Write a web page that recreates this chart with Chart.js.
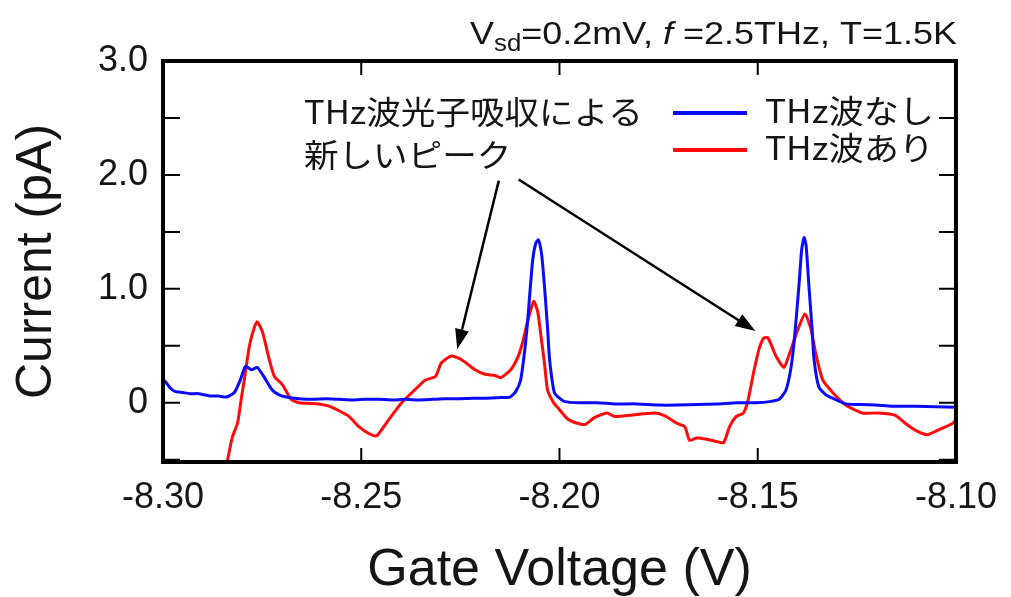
<!DOCTYPE html>
<html>
<head>
<meta charset="utf-8">
<script src="https://cdn.jsdelivr.net/npm/chart.js@4/dist/chart.umd.min.js"></script>
<style>
  html, body { margin: 0; padding: 0; background: #ffffff; }
  #wrap { width: 1011px; height: 597px; position: relative; }
</style>
</head>
<body>
<div id="wrap"><canvas id="c" width="1011" height="597"></canvas></div>
<script>
// ---- data ----
const seriesLabels = ['THz波なし', 'THz波あり'];

const voltageNoTHz = [
  -8.3000, -8.2995, -8.2982, -8.2970, -8.2950, -8.2932, -8.2910, -8.2882, -8.2860, -8.2840,
  -8.2820, -8.2805, -8.2792, -8.2777, -8.2762, -8.2744, -8.2724, -8.2707, -8.2689, -8.2657,
  -8.2620, -8.2590, -8.2556, -8.2520, -8.2490, -8.2456, -8.2420, -8.2390, -8.2356, -8.2320,
  -8.2290, -8.2256, -8.2220, -8.2190, -8.2155, -8.2125, -8.2110, -8.2098, -8.2088, -8.2080,
  -8.2068, -8.2060, -8.2053, -8.2045, -8.2038, -8.2030, -8.2025, -8.2013, -8.2000, -8.1987,
  -8.1950, -8.1905, -8.1860, -8.1805, -8.1750, -8.1704, -8.1650, -8.1604, -8.1550, -8.1504,
  -8.1470, -8.1446, -8.1429, -8.1419, -8.1411, -8.1404, -8.1396, -8.1389, -8.1383, -8.1378,
  -8.1371, -8.1363, -8.1358, -8.1346, -8.1328, -8.1311, -8.1278, -8.1240, -8.1203, -8.1160,
  -8.1103, -8.1050, -8.1000
];
const currentNoTHz = [
  0.20, 0.19, 0.13, 0.10, 0.09, 0.08, 0.08, 0.06, 0.06, 0.05,
  0.09, 0.20, 0.32, 0.29, 0.31, 0.22, 0.11, 0.07, 0.05, 0.035,
  0.03, 0.035, 0.03, 0.025, 0.03, 0.03, 0.025, 0.03, 0.025, 0.03,
  0.035, 0.035, 0.04, 0.04, 0.045, 0.05, 0.10, 0.20, 0.45, 0.73,
  1.24, 1.40, 1.43, 1.30, 1.03, 0.65, 0.38, 0.09, 0.04, 0.01,
  0.00, 0.00, -0.01, -0.01, -0.02, -0.02, -0.015, -0.01, 0.00, 0.00,
  0.01, 0.03, 0.11, 0.25, 0.44, 0.70, 1.03, 1.35, 1.45, 1.38,
  1.03, 0.65, 0.38, 0.14, 0.07, 0.04, -0.01, -0.015, -0.02, -0.03,
  -0.03, -0.035, -0.04
];

const voltageWithTHz = [
  -8.2850, -8.2837, -8.2825, -8.2812, -8.2802, -8.2795, -8.2782, -8.2769, -8.2762, -8.2749,
  -8.2732, -8.2719, -8.2699, -8.2677, -8.2657, -8.2607, -8.2581, -8.2556, -8.2531, -8.2506,
  -8.2481, -8.2461, -8.2431, -8.2398, -8.2363, -8.2338, -8.2313, -8.2298, -8.2273, -8.2248,
  -8.2213, -8.2188, -8.2163, -8.2148, -8.2123, -8.2105, -8.2093, -8.2080, -8.2065, -8.2055,
  -8.2048, -8.2038, -8.2030, -8.2015, -8.2005, -8.1980, -8.1955, -8.1935, -8.1912, -8.1880,
  -8.1862, -8.1822, -8.1762, -8.1737, -8.1704, -8.1684, -8.1672, -8.1654, -8.1629, -8.1604,
  -8.1586, -8.1571, -8.1554, -8.1536, -8.1524, -8.1509, -8.1496, -8.1484, -8.1474, -8.1454,
  -8.1434, -8.1416, -8.1398, -8.1381, -8.1366, -8.1353, -8.1336, -8.1311, -8.1278, -8.1236,
  -8.1195, -8.1153, -8.1128, -8.1103, -8.1073, -8.1045, -8.1008, -8.1000
];
const currentWithTHz = [
  -0.70, -0.50, -0.30, -0.18, 0.05, 0.20, 0.50, 0.67, 0.71, 0.62,
  0.38, 0.23, 0.16, 0.03, 0.00, -0.01, -0.03, -0.07, -0.12, -0.21,
  -0.27, -0.29, -0.15, 0.00, 0.12, 0.20, 0.23, 0.35, 0.41, 0.38,
  0.29, 0.25, 0.24, 0.22, 0.29, 0.40, 0.53, 0.72, 0.89, 0.80,
  0.62, 0.35, 0.11, 0.00, -0.04, -0.14, -0.18, -0.19, -0.13, -0.09,
  -0.12, -0.11, -0.09, -0.11, -0.18, -0.21, -0.33, -0.31, -0.32, -0.34,
  -0.35, -0.21, -0.12, -0.09, 0.03, 0.29, 0.48, 0.57, 0.57, 0.41,
  0.31, 0.47, 0.65, 0.78, 0.65, 0.42, 0.20, 0.09, -0.02, -0.09,
  -0.09, -0.11, -0.18, -0.24, -0.28, -0.24, -0.18, -0.15
];

const xMin = -8.30, xMax = -8.10, xStep = 0.05;
const yMin = -0.52, yMax = 3.0, yStep = 0.5;
const yLabelled = [0, 1, 2, 3];

const annotationLines = ['THz波光子吸収による', '新しいピーク'];
// arrows: [voltage, current] in data units
const arrowStarts = [[-8.2153, 1.95], [-8.2103, 1.96]];
const arrowTips   = [[-8.2258, 0.47], [-8.1506, 0.63]];

const colors = ['#0a0aff', '#ff0a0a'];
const latin = '"Liberation Sans", Arial, sans-serif';
const cjk = '"Noto Sans CJK JP", "Noto Sans CJK SC", sans-serif';
const textColor = '#151515';

function pts(xs, ys) { return xs.map((v, i) => ({ x: v, y: ys[i] })); }

function stretchedText(ctx, text, x, y, sx) {
  ctx.save();
  ctx.translate(x, y);
  ctx.scale(sx, 1);
  ctx.fillText(text, 0, 0);
  ctx.restore();
}

const decorPlugin = {
  id: 'decor',
  afterDatasetsDraw(chart) {
    const { ctx, chartArea: a, scales: { x, y } } = chart;
    ctx.save();
    // inward ticks
    ctx.strokeStyle = '#000';
    ctx.lineWidth = 2;
    ctx.beginPath();
    x.ticks.forEach(t => {
      const px = x.getPixelForValue(t.value);
      ctx.moveTo(px, a.bottom); ctx.lineTo(px, a.bottom - 14);
      ctx.moveTo(px, a.top); ctx.lineTo(px, a.top + 14);
    });
    y.ticks.forEach(t => {
      const py = y.getPixelForValue(t.value);
      ctx.moveTo(a.left, py); ctx.lineTo(a.left + 17, py);
      ctx.moveTo(a.right, py); ctx.lineTo(a.right - 17, py);
    });
    ctx.stroke();
    // frame
    ctx.lineWidth = 4;
    ctx.strokeRect(a.left, a.top, a.right - a.left, a.bottom - a.top);

    // annotation text
    ctx.fillStyle = textColor;
    ctx.font = '32px ' + cjk;
    ctx.textBaseline = 'middle';
    ctx.textAlign = 'left';
    stretchedText(ctx, annotationLines[0], 304, 112, 1.08);
    stretchedText(ctx, annotationLines[1], 304, 155, 1.08);

    // arrows
    arrowStarts.forEach((s, i) => {
      const x1 = x.getPixelForValue(s[0]), y1 = y.getPixelForValue(s[1]);
      const x2 = x.getPixelForValue(arrowTips[i][0]), y2 = y.getPixelForValue(arrowTips[i][1]);
      const ang = Math.atan2(y2 - y1, x2 - x1);
      const hl = 20, hw = 7;
      const bx = x2 - hl * Math.cos(ang), by = y2 - hl * Math.sin(ang);
      ctx.strokeStyle = '#000';
      ctx.lineWidth = 2.5;
      ctx.beginPath(); ctx.moveTo(x1, y1); ctx.lineTo(bx, by); ctx.stroke();
      ctx.fillStyle = '#000';
      ctx.beginPath();
      ctx.moveTo(x2, y2);
      ctx.lineTo(bx + hw * Math.sin(ang), by - hw * Math.cos(ang));
      ctx.lineTo(bx - hw * Math.sin(ang), by + hw * Math.cos(ang));
      ctx.closePath(); ctx.fill();
    });

    // legend
    const legY = [113, 150];
    chart.data.datasets.forEach((ds, i) => {
      ctx.strokeStyle = ds.borderColor;
      ctx.lineWidth = 4;
      ctx.beginPath(); ctx.moveTo(673, legY[i]); ctx.lineTo(747, legY[i]); ctx.stroke();
      ctx.fillStyle = textColor;
      ctx.font = '32px ' + cjk;
      ctx.textBaseline = 'middle';
      stretchedText(ctx, ds.label, 765, legY[i] - 2, 1.1);
    });

    // header text: Vsd=0.2mV, f =2.5THz, T=1.5K (right aligned, ends at 957)
    const parts = [
      { t: 'V', f: '32px ' + latin, dy: 0 },
      { t: 'sd', f: '23px ' + latin, dy: 7 },
      { t: '=0.2mV, ', f: '32px ' + latin, dy: 0 },
      { t: 'f', f: 'italic 32px ' + latin, dy: 0 },
      { t: ' =2.5THz, T=1.5K', f: '32px ' + latin, dy: 0 }
    ];
    let total = 0;
    parts.forEach(p => { ctx.font = p.f; p.w = ctx.measureText(p.t).width; total += p.w; });
    const sx = 487 / total;
    ctx.fillStyle = textColor;
    ctx.textBaseline = 'alphabetic';
    ctx.save();
    ctx.translate(470, 44);
    ctx.scale(sx, 1);
    let cx = 0;
    parts.forEach(p => { ctx.font = p.f; ctx.fillText(p.t, cx, p.dy); cx += p.w; });
    ctx.restore();
    ctx.restore();
  }
};

new Chart(document.getElementById('c'), {
  type: 'line',
  data: {
    datasets: [
      { label: seriesLabels[0], data: pts(voltageNoTHz, currentNoTHz), borderColor: colors[0],
        borderWidth: 3, pointRadius: 0, tension: 0.2, fill: false },
      { label: seriesLabels[1], data: pts(voltageWithTHz, currentWithTHz), borderColor: colors[1],
        borderWidth: 3, pointRadius: 0, tension: 0.2, fill: false }
    ]
  },
  options: {
    responsive: false,
    animation: false,
    events: [],
    layout: { padding: { top: 61, right: 49, left: 0, bottom: 0 } },
    plugins: { legend: { display: false }, tooltip: { enabled: false }, title: { display: false } },
    scales: {
      x: {
        type: 'linear', min: xMin, max: xMax,
        afterFit(s) { s.height = 135; },
        grid: { display: false, drawTicks: false },
        border: { display: false },
        ticks: { stepSize: xStep, includeBounds: false, autoSkip: false, maxRotation: 0,
          padding: 14, color: textColor, font: { family: latin, size: 36 },
          callback: v => v.toFixed(2) },
        title: { display: true, text: 'Gate Voltage (V)', color: textColor,
          font: { family: latin, size: 52, lineHeight: 1 }, padding: { top: 0, bottom: 0 } }
      },
      y: {
        type: 'linear', min: yMin, max: yMax,
        afterFit(s) { s.width = 163; },
        grid: { display: false, drawTicks: false },
        border: { display: false },
        ticks: { stepSize: yStep, includeBounds: false, autoSkip: false, padding: 15,
          color: textColor, font: { family: latin, size: 36 },
          callback: v => {
            const r = Math.round(v);
            if (Math.abs(v - r) > 1e-9 || !yLabelled.includes(r)) return '';
            return r === 0 ? '0' : r.toFixed(1);
          } },
        title: { display: true, text: 'Current (pA)', color: textColor,
          font: { family: latin, size: 50, lineHeight: 1 }, padding: { top: 12, bottom: 0 } }
      }
    }
  },
  plugins: [decorPlugin]
});
</script>
</body>
</html>
